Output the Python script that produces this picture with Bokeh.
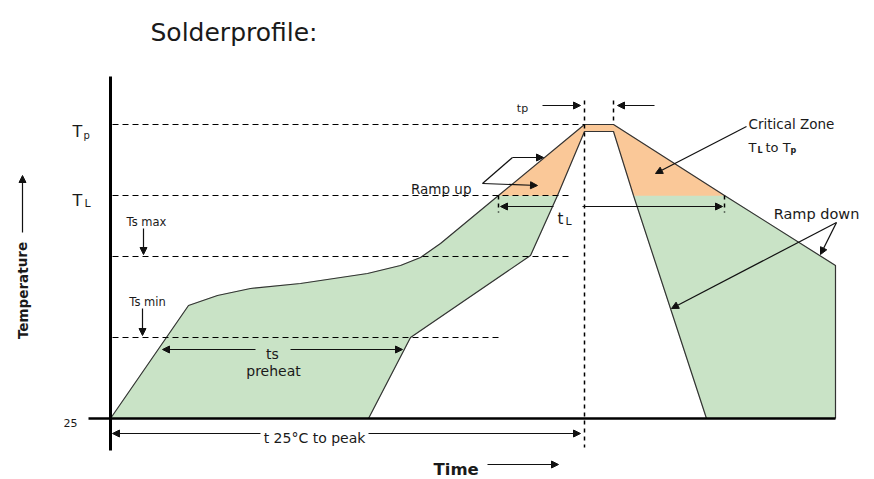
import math
from bokeh.plotting import figure
from bokeh.models import ColumnDataSource, Arrow, NormalHead, Range1d
from bokeh.core.properties import value
from bokeh.embed import file_html
from bokeh.resources import INLINE

# ---- schematic levels (time / temperature units of the sketch) ----
T25, TS_MIN, TS_MAX, T_L, T_P, T_P_IN = 0, 81, 162, 223, 294, 287

# outer (fast) profile edge
outer_x = [0, 78, 107, 140, 190, 257, 290, 310, 330, 388, 474, 503, 614, 725, 725]
outer_y = [0, 113, 123, 130, 135, 145, 153, 161, 175, 223, 294, 294, 223, 153, 0]
# inner (slow) profile edge
inner_x = [258, 300, 420, 447, 474, 503, 523, 596]
inner_y = [0, 81, 163, 223, 287, 287, 223, 0]

# reference levels (dashed) : y, x end
level_y = [T_P, T_L, TS_MAX, TS_MIN]
level_xend = [474, 462, 460, 390]
# vertical dotted markers : x, y0, y1
mark_x = [474, 503, 388, 614]
mark_y0 = [318, 318, 223, 223]
mark_y1 = [-29, 294, 206, 206]

# annotation arrows
arr_x0 = [33, 32, 145, 180, 150, 258, 443, 472, 432, 544, 636, 372, 402, 726, 726, -88, 377]
arr_y0 = [190, 110, 69, 69, -15, -15, 212, 212, 313, 313, 292, 235, 261, 196, 196, 186, -46]
arr_x1 = [33, 32, 52, 292, 2, 470, 390, 612, 470, 507, 545, 427, 433, 710, 561, -88, 448]
arr_y1 = [164, 83, 69, 69, -15, -15, 212, 212, 313, 313, 245, 233, 261, 164, 110, 243, -46]

# texts
txt = ["Solderprofile:", "T", "p", "T", "L", "25", "Ts max", "Ts min", "ts", "preheat",
       "t 25°C to peak", "Time", "Temperature", "tp", "Ramp up", "t", "L",
       "Critical Zone", "T", "L", "to T", "p", "Ramp down"]
txt_x = [40, -38, -27, -38, -26, -33, 36, 37, 162, 163, 204, 323, -88, 412, 361, 447, 455,
         638, 638, 647, 655, 680, 706]
txt_y = [386, 287, 283, 218, 215, -4, 197, 117, 65, 48, -19, -51, 128, 310, 230, 200, 197,
         295, 271, 268, 271, 268, 205]
txt_size = ["25px", "16px", "10px", "16px", "11px", "11px", "11.5px", "11.5px", "14px", "14px",
            "14px", "16.5px", "13.5px", "11px", "13.5px", "15px", "11px",
            "13.5px", "13px", "8px", "13px", "8px", "14.5px"]
txt_align = ["left", "left", "left", "left", "left", "right", "center", "center", "center", "center",
             "center", "left", "center", "center", "right", "left", "left",
             "left", "left", "left", "left", "left", "center"]
txt_base = ["alphabetic"] * 12 + ["middle"] + ["alphabetic"] * 10
txt_style = ["normal"] * 11 + ["bold", "bold"] + ["normal"] * 6 + ["bold", "normal", "bold", "normal"]
txt_angle = [0.0] * 12 + [math.pi / 2] + [0.0] * 10

GREEN = "#c9e3c6"
ORANGE = "#fac898"
EDGE = "#333333"

p = figure(width=874, height=479, x_range=Range1d(-110, 764), y_range=Range1d(-61, 418),
           x_axis_location=None, y_axis_location=None, toolbar_location=None,
           output_backend="svg", min_border=0, outline_line_color=None)
p.grid.visible = False
p.background_fill_color = "white"

# fills
gl_x = outer_x[:10] + inner_x[3::-1]
gl_y = outer_y[:10] + inner_y[3::-1]
p.patch(gl_x, gl_y, fill_color=GREEN, line_color=GREEN, line_width=1)
gr_x = inner_x[6:7] + outer_x[12:15] + inner_x[7:8]
gr_y = inner_y[6:7] + outer_y[12:15] + inner_y[7:8]
p.patch(gr_x, gr_y, fill_color=GREEN, line_color=GREEN, line_width=1)
or_x = outer_x[9:13] + inner_x[6:2:-1]
or_y = outer_y[9:13] + inner_y[6:2:-1]
p.patch(or_x, or_y, fill_color=ORANGE, line_color=ORANGE, line_width=0.5)

# profile edges
p.line(outer_x, outer_y, line_color=EDGE, line_width=1.2)
p.line(inner_x, inner_y, line_color=EDGE, line_width=1.2)

# dashed reference levels
p.segment(x0=[2] * 4, y0=level_y, x1=level_xend, y1=level_y,
          line_color="black", line_width=1, line_dash="6 4")
p.segment(x0=mark_x, y0=mark_y0, x1=mark_x, y1=mark_y1,
          line_color="black", line_width=1.5, line_dash="4 4")

# axes
p.segment(x0=[0, -22], y0=[-32, T25], x1=[0, 725], y1=[342, T25],
          line_color="black", line_width=[3, 2.5])

# ramp-up bracket connector
p.line([arr_x0[11], arr_x0[12]], [arr_y0[11], arr_y0[12]], line_color="#111111", line_width=1.2)

asrc = ColumnDataSource(dict(x0=arr_x0, y0=arr_y0, x1=arr_x1, y1=arr_y1))
p.add_layout(Arrow(source=asrc, x_start="x0", y_start="y0", x_end="x1", y_end="y1",
                   line_color="#111111", line_width=1.2,
                   end=NormalHead(size=7, fill_color="#111111", line_color="#111111", line_width=1)))

tsrc = ColumnDataSource(dict(x=txt_x, y=txt_y, t=txt, s=txt_size, a=txt_align, b=txt_base,
                             st=txt_style, ang=txt_angle))
p.text(x="x", y="y", text="t", source=tsrc, text_font=value("DejaVu Sans"),
       text_font_size="s", text_align="a", text_baseline="b", text_font_style="st",
       angle="ang", text_color="#1a1a1a")

open("out.html", "w").write(file_html(p, INLINE))
